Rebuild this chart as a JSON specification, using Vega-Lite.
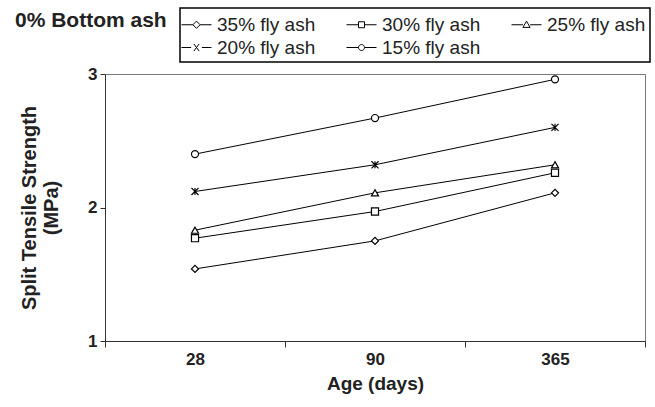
{
  "$schema": "https://vega.github.io/schema/vega-lite/v6.json",
  "width": 540,
  "height": 267,
  "autosize": "none",
  "padding": {"left": 105, "top": 74, "right": 10, "bottom": 66},
  "background": "white",
  "config": {
    "view": {"stroke": "#777", "strokeWidth": 1},
    "font": "Liberation Sans",
    "legend": {"strokeWidth": 1.5}
  },
  "title": {
    "text": "0% Bottom ash",
    "anchor": "start",
    "frame": "group",
    "dx": -90,
    "offset": -41,
    "baseline": "alphabetic",
    "fontSize": 21,
    "fontWeight": "bold",
    "font": "Liberation Sans",
    "color": "#222"
  },
  "data": {
    "values": [
      {"series": "15% fly ash", "age": "28", "value": 2.40},
      {"series": "15% fly ash", "age": "90", "value": 2.67},
      {"series": "15% fly ash", "age": "365", "value": 2.96},
      {"series": "20% fly ash", "age": "28", "value": 2.12},
      {"series": "20% fly ash", "age": "90", "value": 2.32},
      {"series": "20% fly ash", "age": "365", "value": 2.60},
      {"series": "25% fly ash", "age": "28", "value": 1.83},
      {"series": "25% fly ash", "age": "90", "value": 2.11},
      {"series": "25% fly ash", "age": "365", "value": 2.32},
      {"series": "30% fly ash", "age": "28", "value": 1.77},
      {"series": "30% fly ash", "age": "90", "value": 1.97},
      {"series": "30% fly ash", "age": "365", "value": 2.26},
      {"series": "35% fly ash", "age": "28", "value": 1.54},
      {"series": "35% fly ash", "age": "90", "value": 1.75},
      {"series": "35% fly ash", "age": "365", "value": 2.11}
    ]
  },
  "encoding": {
    "x": {
      "field": "age",
      "type": "ordinal",
      "sort": ["28", "90", "365"],
      "scale": {"paddingInner": 0, "paddingOuter": 0},
      "axis": {
        "title": "Age (days)",
        "labelAngle": 0,
        "tickBand": "extent",
        "domainColor": "#333",
        "tickColor": "#333",
        "tickSize": 6,
        "labelFont": "Liberation Sans",
        "labelFontSize": 17,
        "labelFontWeight": "bold",
        "labelColor": "#222",
        "labelPadding": 4,
        "titleFont": "Liberation Sans",
        "titleFontSize": 19,
        "titleFontWeight": "bold",
        "titleColor": "#222",
        "titlePadding": 7
      }
    },
    "y": {
      "field": "value",
      "type": "quantitative",
      "scale": {"domain": [1, 3], "nice": false, "zero": false},
      "axis": {
        "values": [1, 2, 3],
        "labelExpr": "format(datum.value, 'd')",
        "labelOverlap": false,
        "grid": false,
        "title": ["Split Tensile Strength", "(MPa)"],
        "domainColor": "#333",
        "tickColor": "#333",
        "tickSize": 5,
        "labelFont": "Liberation Sans",
        "labelFontSize": 17,
        "labelFontWeight": "bold",
        "labelColor": "#222",
        "labelPadding": 3,
        "titleFont": "Liberation Sans",
        "titleFontSize": 20,
        "titleFontWeight": "bold",
        "titleColor": "#222",
        "titleLineHeight": 22,
        "titlePadding": 26
      }
    }
  },
  "layer": [
    {
      "mark": {"type": "line", "color": "black", "strokeWidth": 1},
      "encoding": {"detail": {"field": "series"}}
    },
    {
      "mark": {"type": "point", "filled": true, "fill": "white", "stroke": "black", "strokeWidth": 1.2, "size": 50, "opacity": 1},
      "encoding": {
        "shape": {
          "field": "series",
          "scale": {
            "domain": ["35% fly ash", "30% fly ash", "25% fly ash", "20% fly ash", "15% fly ash"],
            "range": ["diamond", "square", "triangle-up", "M-1,-1L1,1M1,-1L-1,1M0,-1L0,1", "circle"]
          },
          "legend": null
        }
      }
    },
    {
      "mark": {"type": "point", "opacity": 0},
      "encoding": {
        "shape": {
          "field": "series",
          "scale": {
            "domain": ["35% fly ash", "30% fly ash", "25% fly ash", "20% fly ash", "15% fly ash"],
            "range": [
              "M-1.25,0H-0.3M0.3,0H1.25M-0.3,0L0,-0.3L0.3,0L0,0.3Z",
              "M-1.25,0H-0.25M0.25,0H1.25M-0.25,-0.25H0.25V0.25H-0.25Z",
              "M-1.25,0H-0.3M0.3,0H1.25M-0.3,0.22L0,-0.3L0.3,0.22Z",
              "M-1.25,0H-0.45M0.45,0H1.25M-0.22,-0.3L0.22,0.3M0.22,-0.3L-0.22,0.3",
              "M-1.25,0H-0.25M0.25,0H1.25M-0.25,0A0.25,0.25 0 1,0 0.25,0A0.25,0.25 0 1,0 -0.25,0Z"
            ]
          },
          "legend": {
            "title": null,
            "orient": "none",
            "legendX": 75,
            "legendY": -66,
            "direction": "horizontal",
            "columns": 3,
            "columnPadding": 28,
            "rowPadding": 0,
            "padding": 4,
            "strokeColor": "black",
            "fillColor": "white",
            "symbolSize": 576,
            "symbolOpacity": 1,
            "symbolFillColor": "white",
            "symbolStrokeColor": "black",
            "symbolStrokeWidth": 1,
            "labelOffset": 8,
            "labelFont": "Liberation Sans",
            "labelFontSize": 19,
            "labelColor": "#222",
            "labelLimit": 0
          }
        }
      }
    }
  ],
  "resolve": {"scale": {"shape": "independent"}}
}
